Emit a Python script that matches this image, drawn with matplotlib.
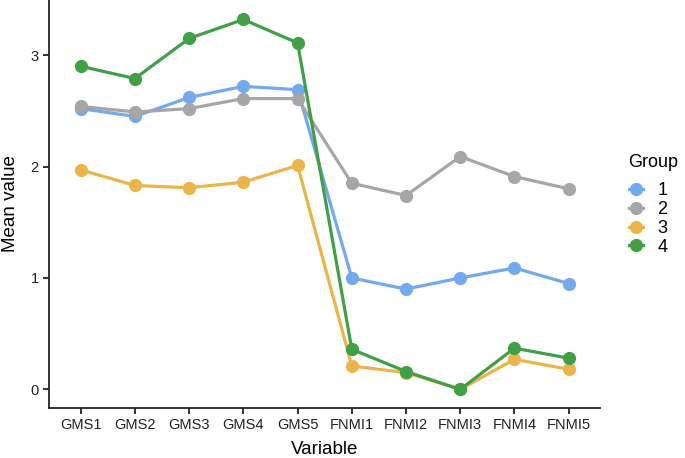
import matplotlib.pyplot as plt
from matplotlib.lines import Line2D

plt.rcParams['font.family'] = ['Liberation Sans', 'DejaVu Sans']

variables = ['GMS1', 'GMS2', 'GMS3', 'GMS4', 'GMS5',
             'FNMI1', 'FNMI2', 'FNMI3', 'FNMI4', 'FNMI5']

group1 = [2.52, 2.45, 2.62, 2.72, 2.69, 1.00, 0.90, 1.00, 1.09, 0.95]
group2 = [2.54, 2.49, 2.52, 2.61, 2.61, 1.85, 1.74, 2.09, 1.91, 1.80]
group3 = [1.97, 1.83, 1.81, 1.86, 2.01, 0.21, 0.15, 0.00, 0.27, 0.18]
group4 = [2.90, 2.79, 3.15, 3.32, 3.11, 0.36, 0.16, 0.00, 0.37, 0.28]

groups = ['1', '2', '3', '4']
series = [group1, group2, group3, group4]
colors = ['#74A9EE', '#A6A6A6', '#EAB54A', '#41A047']

fig = plt.figure(figsize=(6.85, 4.58), dpi=100)
ax = fig.add_axes([0.0715, 0.109, 0.805, 0.891])

x = range(len(variables))
for vals, c in zip(series, colors):
    ax.plot(x, vals, '-o', color=c, lw=2.3, ms=8.5, solid_capstyle='round')

ax.set_xlim(-0.585, 9.585)
ax.set_ylim(-0.168, 3.495)
ax.set_xticks(list(x))
ax.set_xticklabels(variables)
ax.set_yticks([0, 1, 2, 3])

for s in ['top', 'right']:
    ax.spines[s].set_visible(False)
for s in ['left', 'bottom']:
    ax.spines[s].set_linewidth(1.3)
    ax.spines[s].set_color('#222222')
ax.tick_params(axis='both', labelsize=10.5, colors='#222222', length=4,
               width=1.3, labelcolor='#222222')

ax.set_xlabel('Variable', fontsize=13.5, labelpad=6)
ax.set_ylabel('Mean value', fontsize=13.5, labelpad=8)

handles = [Line2D([], [], color=c, marker='o', lw=2.3, ms=8.5) for c in colors]
leg = fig.legend(handles, groups, title='Group', loc='upper left',
                 bbox_to_anchor=(0.907, 0.679), frameon=False,
                 fontsize=13, title_fontsize=13, handlelength=0.8,
                 handletextpad=0.8, labelspacing=0.1, borderaxespad=0)
leg._legend_box.align = 'left'
leg._legend_box.sep = 8

fig.savefig('out.png', dpi=100)
